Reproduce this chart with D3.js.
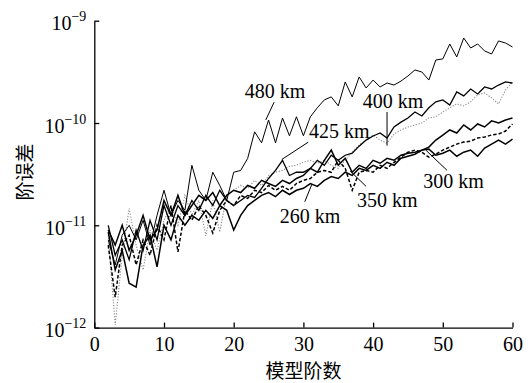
<!DOCTYPE html>
<html>
<head>
<meta charset="utf-8">
<script src="https://cdn.jsdelivr.net/npm/d3@7"></script>
<style>
  body { margin: 0; background: #fff; }
  text { font-family: "Liberation Serif", "Times New Roman", serif; fill: #000; }
  .cjk { font-family: "Noto Sans CJK SC", sans-serif; }
</style>
</head>
<body>
<div id="chart"></div>
<script>
// model degree on the x axis
const degrees = d3.range(2, 61);

const err480 = [7.2e-12,4.1e-12,8.0e-12,1.0e-11,7.2e-12,1.12e-11,6.4e-12,1.25e-11,2.2e-11,1.25e-11,
  1.75e-11,1.4e-11,3.86e-11,2.2e-11,1.75e-11,3.3e-11,2.45e-11,1.75e-11,3.3e-11,3.44e-11,
  4.5e-11,8.2e-11,6.4e-11,1.07e-10,6.4e-11,1.12e-10,7.5e-11,1.15e-10,7.5e-11,1.15e-10,
  1.41e-10,1.68e-10,1.8e-10,1.47e-10,2.52e-10,1.8e-10,2.82e-10,2.2e-10,2.63e-10,2.25e-10,
  2.46e-10,2.35e-10,2.57e-10,2.88e-10,3.3e-10,3.15e-10,2.63e-10,4.13e-10,4.23e-10,5.92e-10,
  4.42e-10,6.77e-10,5.41e-10,5.92e-10,5.06e-10,4.73e-10,6.34e-10,6.05e-10,5.53e-10];

const err425 = [1.0e-11,5.1e-12,7.2e-12,4.6e-12,9.0e-12,5.7e-12,1.12e-11,7.2e-12,1.56e-11,1.0e-11,
  1.56e-11,1.25e-11,1.75e-11,1.4e-11,1.96e-11,1.56e-11,2.2e-11,1.75e-11,1.56e-11,1.75e-11,
  1.96e-11,1.87e-11,2.3e-11,2.87e-11,3.44e-11,4.32e-11,3.07e-11,3.3e-11,3.3e-11,3.6e-11,
  4.32e-11,3.86e-11,4.84e-11,4.32e-11,4.84e-11,5.07e-11,5.94e-11,6.81e-11,7.46e-11,7.98e-11,
  7.13e-11,9.14e-11,1.02e-10,1.12e-10,1.28e-10,1.17e-10,1.41e-10,1.61e-10,1.68e-10,1.5e-10,
  2.01e-10,1.84e-10,2.15e-10,1.92e-10,2.25e-10,2.15e-10,2.35e-10,2.52e-10,2.46e-10];

const err400 = [8.0e-12,1.06e-12,5.1e-12,1.46e-11,6.4e-12,3.66e-12,9.0e-12,5.7e-12,1.12e-11,1.56e-11,
  1.0e-11,1.96e-11,1.25e-11,1.75e-11,7.9e-12,1.75e-11,8.6e-12,1.96e-11,2.2e-11,2.45e-11,
  2.3e-11,2.75e-11,2.45e-11,3.07e-11,3.3e-11,3.44e-11,3.77e-11,3.86e-11,4.13e-11,4.32e-11,
  4.04e-11,4.32e-11,3.86e-11,3.6e-11,4.32e-11,5.18e-11,6.08e-11,6.81e-11,7.63e-11,6.81e-11,
  6.36e-11,7.8e-11,8.55e-11,9.14e-11,9.56e-11,1.0e-10,1.12e-10,1.15e-10,1.28e-10,1.41e-10,
  1.54e-10,1.47e-10,1.61e-10,1.88e-10,1.97e-10,1.76e-10,1.54e-10,2.1e-10,2.52e-10];

const err350 = [6.4e-12,1.98e-12,6.4e-12,8.0e-12,4.1e-12,7.2e-12,5.1e-12,1.0e-11,7.2e-12,1.56e-11,
  5.5e-12,1.4e-11,1.12e-11,1.56e-11,1.25e-11,8.4e-12,1.4e-11,1.75e-11,1.56e-11,1.96e-11,
  1.83e-11,2.2e-11,2.09e-11,2.45e-11,2.2e-11,2.4e-11,2.2e-11,2.56e-11,2.75e-11,2.87e-11,
  3.3e-11,3.44e-11,3.3e-11,4.32e-11,3.6e-11,2.2e-11,3.3e-11,3.44e-11,3.3e-11,3.86e-11,
  3.6e-11,4.13e-11,4.63e-11,5.18e-11,5.43e-11,5.18e-11,4.63e-11,4.95e-11,5.43e-11,5.81e-11,
  6.22e-11,6.51e-11,6.66e-11,7.13e-11,7.29e-11,7.63e-11,7.8e-11,8.35e-11,9.78e-11];

const err300 = [9.0e-12,6.4e-12,1.0e-11,5.7e-12,8.0e-12,1.25e-11,7.2e-12,9.0e-12,1.75e-11,1.25e-11,
  1.96e-11,1.25e-11,1.56e-11,1.96e-11,1.75e-11,2.09e-11,1.56e-11,1.96e-11,2.2e-11,2.09e-11,
  2.45e-11,2.3e-11,2.75e-11,2.56e-11,2.4e-11,2.75e-11,2.56e-11,2.87e-11,3.07e-11,3.6e-11,
  3.3e-11,4.32e-11,5.43e-11,3.86e-11,4.52e-11,3.3e-11,3.86e-11,3.6e-11,4.32e-11,4.04e-11,
  4.52e-11,4.32e-11,4.84e-11,5.07e-11,5.18e-11,5.43e-11,5.81e-11,6.81e-11,7.63e-11,8.55e-11,
  7.98e-11,9.56e-11,8.55e-11,9.78e-11,9.14e-11,1.05e-10,1.0e-10,1.07e-10,1.12e-10];

const err260 = [8.6e-12,3.66e-12,5.7e-12,2.72e-12,2.49e-12,6.4e-12,8.0e-12,3.92e-12,1.0e-11,7.2e-12,
  1.25e-11,1.0e-11,1.25e-11,1.12e-11,1.4e-11,1.17e-11,1.56e-11,1.4e-11,9.0e-12,1.25e-11,
  1.56e-11,1.75e-11,1.96e-11,2.09e-11,1.91e-11,2.2e-11,2.0e-11,2.2e-11,2.3e-11,2.56e-11,
  2.4e-11,2.75e-11,3.0e-11,2.87e-11,3.3e-11,3.07e-11,3.6e-11,3.44e-11,3.86e-11,3.6e-11,
  4.13e-11,3.86e-11,4.52e-11,4.73e-11,4.95e-11,5.43e-11,5.55e-11,4.84e-11,5.07e-11,5.43e-11,
  4.73e-11,5.18e-11,5.43e-11,4.73e-11,5.68e-11,6.22e-11,6.81e-11,6.22e-11,6.97e-11];

const xTicks = [0, 10, 20, 30, 40, 50, 60];
const yTicks = [1e-12, 1e-11, 1e-10, 1e-9];
const yTickExps = ["\u221212", "\u221211", "\u221210", "\u22129"];

// label text, label anchor (degree, value), leader from -> to (degree, value)
const labelNames = ["480 km", "400 km", "425 km", "300 km", "350 km", "260 km"];
const labelPos = [[21.6, 1.76e-10], [38.5, 1.4e-10], [30.8, 7.1e-11], [47.2, 2.3e-11], [37.7, 1.5e-11], [26.6, 1.05e-11]];
const leaderFrom = [[25.8, 1.6e-10], [42.0, 1.28e-10], [30.7, 6.5e-11], [50.6, 3.45e-11], [39.0, 2.4e-11], [30.2, 1.7e-11]];
const leaderTo = [[24.6, 1.07e-10], [42.0, 6.0e-11], [26.9, 4.4e-11], [47.6, 5.4e-11], [36.7, 3.4e-11], [31.2, 2.5e-11]];

const series = [
  { values: err400, color: "#8a8a8a", width: 1.1, dash: "1.2,1.6" },
  { values: err480, color: "#000", width: 1.0, dash: null },
  { values: err425, color: "#000", width: 1.3, dash: null },
  { values: err350, color: "#000", width: 1.5, dash: "3.5,2" },
  { values: err300, color: "#000", width: 1.5, dash: null },
  { values: err260, color: "#000", width: 1.5, dash: null }
];

const width = 530, height = 383;
const margin = { top: 20.7, right: 17.5, bottom: 55.4, left: 94.3 };

const svg = d3.select("#chart").append("svg")
  .attr("width", width)
  .attr("height", height);

const x = d3.scaleLinear().domain([0, 60]).range([margin.left, width - margin.right]);
const y = d3.scaleLog().domain([1e-12, 1e-9]).range([height - margin.bottom, margin.top]);

// lines
const line = d3.line()
  .x((d, i) => x(degrees[i]))
  .y(d => y(d));

series.forEach(s => {
  svg.append("path")
    .datum(s.values)
    .attr("fill", "none")
    .attr("stroke", s.color)
    .attr("stroke-width", s.width)
    .attr("stroke-linejoin", "miter")
    .attr("stroke-dasharray", s.dash)
    .attr("d", line);
});

// axes
const xAxis = d3.axisBottom(x).tickValues(xTicks).tickSizeInner(-5).tickSizeOuter(0).tickPadding(9);
const gx = svg.append("g")
  .attr("transform", `translate(0,${height - margin.bottom})`)
  .call(xAxis);
gx.selectAll("text").attr("font-size", 20).attr("font-family", "Liberation Serif, serif");

const yAxis = d3.axisLeft(y).tickValues(yTicks).tickSizeInner(-5).tickSizeOuter(0).tickFormat(() => "");
const gy = svg.append("g")
  .attr("transform", `translate(${margin.left},0)`)
  .call(yAxis);

gy.selectAll(".tick").each(function(d, i) {
  const t = d3.select(this).append("text")
    .attr("x", -8)
    .attr("y", 9)
    .attr("text-anchor", "end")
    .attr("font-size", 20);
  t.append("tspan").text("10");
  t.append("tspan")
    .attr("font-size", 14)
    .attr("dy", -9)
    .text(yTickExps[i]);
});

svg.selectAll(".domain").attr("stroke", "#000").attr("stroke-width", 1.3);
svg.selectAll(".tick line").attr("stroke", "#000").attr("stroke-width", 1.3);

// axis titles
svg.append("text")
  .attr("class", "cjk")
  .attr("x", (margin.left + width - margin.right) / 2)
  .attr("y", 378)
  .attr("text-anchor", "middle")
  .attr("font-size", 19)
  .text("模型阶数");

svg.append("text")
  .attr("class", "cjk")
  .attr("transform", "translate(32,172) rotate(-90)")
  .attr("text-anchor", "middle")
  .attr("font-size", 19)
  .text("阶误差");

// leaders and labels
labelNames.forEach((name, i) => {
  svg.append("line")
    .attr("x1", x(leaderFrom[i][0]))
    .attr("y1", y(leaderFrom[i][1]))
    .attr("x2", x(leaderTo[i][0]))
    .attr("y2", y(leaderTo[i][1]))
    .attr("stroke", "#000")
    .attr("stroke-width", 1);
  svg.append("text")
    .attr("x", x(labelPos[i][0]))
    .attr("y", y(labelPos[i][1]))
    .attr("font-size", 20)
    .text(name);
});
</script>
</body>
</html>
